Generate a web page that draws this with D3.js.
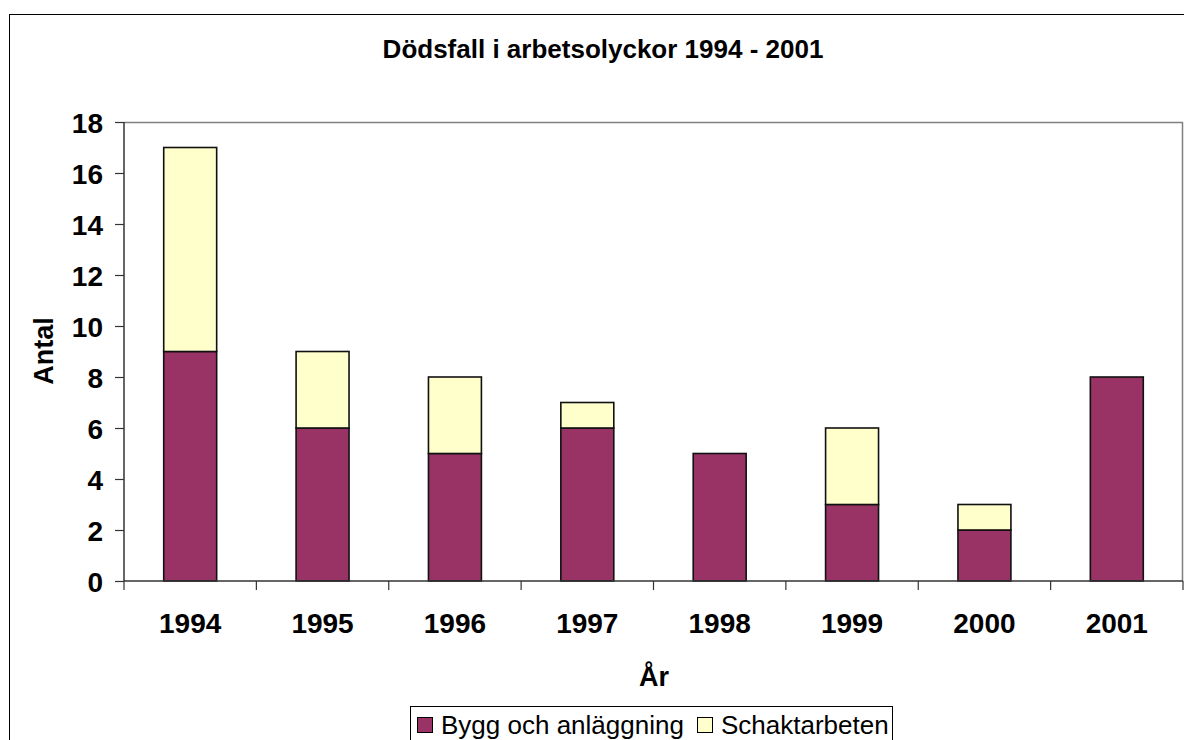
<!DOCTYPE html>
<html>
<head>
<meta charset="utf-8">
<script src="https://d3js.org/d3.v7.min.js"></script>
<style>
  body { margin: 0; background: #fff; }
  svg { font-family: "Liberation Sans", Arial, sans-serif; display: block; }
</style>
</head>
<body>
<svg id="chart" width="1184" height="740"></svg>
<script>
// data
var years = ["1994", "1995", "1996", "1997", "1998", "1999", "2000", "2001"];
var bygg = [9, 6, 5, 6, 5, 3, 2, 8];
var schakt = [8, 3, 3, 1, 0, 3, 1, 0];
var yTicks = [0, 2, 4, 6, 8, 10, 12, 14, 16, 18];
var seriesNames = ["Bygg och anläggning", "Schaktarbeten"];
var colors = ["#993366", "#FFFFCC"];

var svg = d3.select("#chart");
var margin = { top: 122, left: 124, right: 1, bottom: 159 };
var width = 1184, height = 740;
var plotW = width - margin.left - margin.right;
var plotH = height - margin.top - margin.bottom;

// outer chart border (runs off the right and bottom)
svg.append("rect")
  .attr("x", 9.5).attr("y", 14.5)
  .attr("width", 1200).attr("height", 760)
  .attr("fill", "none").attr("stroke", "#000").attr("stroke-width", 1);

svg.append("text")
  .attr("x", 603).attr("y", 58)
  .attr("text-anchor", "middle")
  .style("font-size", "26px").style("font-weight", "bold")
  .text("Dödsfall i arbetsolyckor 1994 - 2001");

var x = d3.scaleBand().domain(years).range([0, plotW]).paddingInner(0.6).paddingOuter(0.3);
var xb = d3.scaleBand().domain(years).range([0, plotW]);
var y = d3.scaleLinear().domain([0, 18]).range([plotH, 0]);

var g = svg.append("g").attr("transform", "translate(" + margin.left + "," + margin.top + ")");

// plot area frame, grey top and right
g.append("path")
  .attr("d", "M0,0.5H" + (plotW - 0.5) + "V" + plotH)
  .attr("fill", "none").attr("stroke", "#808080").attr("stroke-width", 1.5);

var stacked = d3.stack().keys([0, 1]).value(function(d, k) { return d[k]; })(
  years.map(function(yr, i) { return [bygg[i], schakt[i]]; })
);

stacked.forEach(function(layer, k) {
  g.selectAll(".bar" + k)
    .data(layer.filter(function(d) { return d[1] > d[0]; }))
    .enter().append("rect")
    .attr("x", function(d) { return x(years[layer.indexOf(d)]); })
    .attr("y", function(d) { return y(d[1]); })
    .attr("width", x.bandwidth())
    .attr("height", function(d) { return y(d[0]) - y(d[1]); })
    .attr("fill", colors[k])
    .attr("stroke", "#111").attr("stroke-width", 1.6);
});

// y axis
var yAxis = g.append("g")
  .call(d3.axisLeft(y).tickValues(yTicks).tickSize(9).tickPadding(12));
yAxis.select(".domain").attr("stroke", "#333").attr("stroke-width", 1.5).attr("d", "M0," + plotH + "V0");
yAxis.selectAll("line").attr("stroke", "#333").attr("stroke-width", 1.2);
yAxis.selectAll("text").style("font-size", "28px").style("font-weight", "bold").attr("fill", "#000").attr("dy", "0.36em");

// x axis, ticks at category boundaries
var bounds = years.map(function(d) { return xb(d); }).concat([plotW]);
var xAxis = g.append("g").attr("transform", "translate(0," + plotH + ")");
xAxis.append("line").attr("x1", 0).attr("x2", plotW)
  .attr("stroke", "#333").attr("stroke-width", 1.5);
xAxis.selectAll(".tk").data(bounds).enter().append("line")
  .attr("x1", function(d) { return d; }).attr("x2", function(d) { return d; })
  .attr("y1", 0).attr("y2", 9)
  .attr("stroke", "#333").attr("stroke-width", 1.2);
xAxis.selectAll(".lbl").data(years).enter().append("text")
  .attr("x", function(d) { return xb(d) + xb.bandwidth() / 2; })
  .attr("y", 52)
  .attr("text-anchor", "middle")
  .style("font-size", "28px").style("font-weight", "bold")
  .text(function(d) { return d; });

svg.append("text")
  .attr("x", 654).attr("y", 686)
  .attr("text-anchor", "middle")
  .style("font-size", "27px").style("font-weight", "bold")
  .text("År");

svg.append("text")
  .attr("transform", "translate(53,351) rotate(-90)")
  .attr("text-anchor", "middle")
  .style("font-size", "27px").style("font-weight", "bold")
  .text("Antal");

// legend
var legend = svg.append("g");
legend.append("rect")
  .attr("x", 410.5).attr("y", 706.5).attr("width", 482).attr("height", 60)
  .attr("fill", "#fff").attr("stroke", "#000").attr("stroke-width", 1);
var legendX = [417, 697];
seriesNames.forEach(function(name, i) {
  legend.append("rect")
    .attr("x", legendX[i] + 0.5).attr("y", 717.5).attr("width", 15).attr("height", 15)
    .attr("fill", colors[i]).attr("stroke", "#000").attr("stroke-width", 1);
  legend.append("text")
    .attr("x", legendX[i] + 24).attr("y", 734)
    .style("font-size", "26px")
    .text(name);
});
</script>
</body>
</html>
